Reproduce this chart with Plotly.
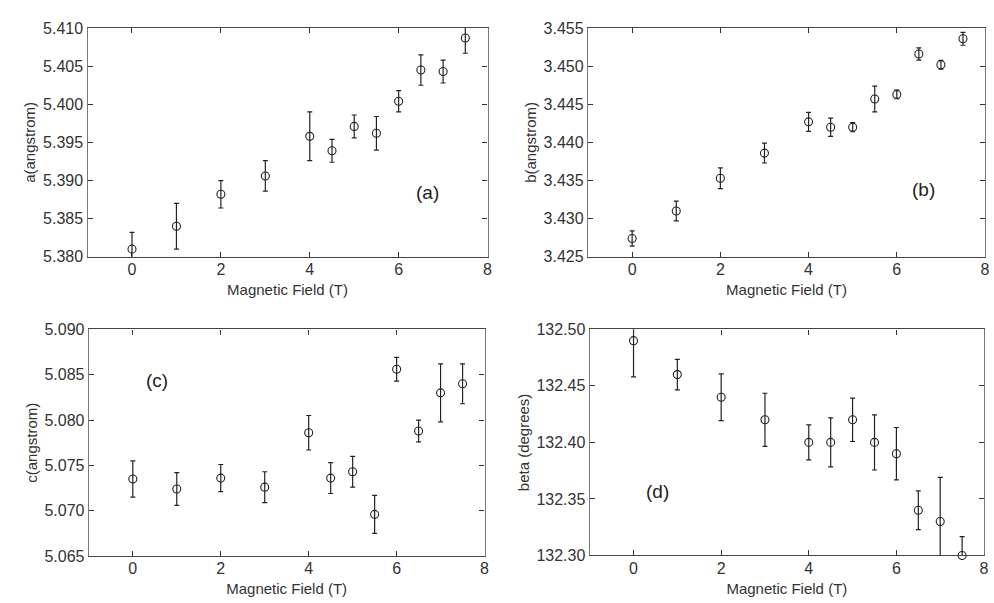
import plotly.graph_objects as go

field = [0, 1, 2, 3, 4, 4.5, 5, 5.5, 6, 6.5, 7, 7.5]

a_val = [5.3810, 5.3840, 5.3882, 5.3906, 5.3958, 5.3939, 5.3971, 5.3962, 5.4004, 5.4045, 5.4043, 5.4087]
a_err = [0.0022, 0.0030, 0.0018, 0.0020, 0.0032, 0.0015, 0.0015, 0.0022, 0.0014, 0.0020, 0.0015, 0.0020]

b_val = [3.4274, 3.4310, 3.4353, 3.4386, 3.4427, 3.4420, 3.4420, 3.4457, 3.4463, 3.4516, 3.4502, 3.4536]
b_err = [0.0010, 0.0013, 0.00135, 0.0013, 0.00125, 0.0012, 0.0006, 0.0017, 0.00057, 0.0008, 0.00057, 0.00085]

c_val = [5.0735, 5.0724, 5.0736, 5.0726, 5.0786, 5.0736, 5.0743, 5.0696, 5.0856, 5.0788, 5.0830, 5.0840]
c_err = [0.0020, 0.0018, 0.0015, 0.0017, 0.0019, 0.0017, 0.0017, 0.0021, 0.0013, 0.0012, 0.0032, 0.0022]

beta_val = [132.49, 132.46, 132.44, 132.42, 132.40, 132.40, 132.42, 132.40, 132.39, 132.34, 132.33, 132.30]
beta_err = [0.032, 0.0135, 0.0207, 0.0235, 0.0155, 0.0217, 0.0192, 0.0244, 0.0232, 0.0172, 0.039, 0.0166]

panels = [
    dict(y=a_val, e=a_err, title="a(angstrom)", rng=[5.380, 5.410], dt=0.005, fmt=".3f",
         label="(a)", lx=6.64, ly=5.3884, xd=[88/994, 490/994], yd=[0.5755, 0.9657]),
    dict(y=b_val, e=b_err, title="b(angstrom)", rng=[3.425, 3.455], dt=0.005, fmt=".3f",
         label="(b)", lx=6.6, ly=3.4338, xd=[591/994, 990/994], yd=[0.5755, 0.9657]),
    dict(y=c_val, e=c_err, title="c(angstrom)", rng=[5.065, 5.090], dt=0.005, fmt=".3f",
         label="(c)", lx=0.54, ly=5.0844, xd=[89.3/994, 487/994], yd=[0.0647, 0.4516]),
    dict(y=beta_val, e=beta_err, title="beta (degrees)", rng=[132.30, 132.50], dt=0.05, fmt=".2f",
         label="(d)", lx=0.54, ly=132.357, xd=[592.7/994, 989/994], yd=[0.0658, 0.4516]),
]

FONT = "Liberation Sans, Arial, Helvetica, sans-serif"
INK = "#222222"

fig = go.Figure()
layout = dict(
    width=994, height=603,
    margin=dict(l=0, r=0, t=0, b=0),
    paper_bgcolor="white", plot_bgcolor="white",
    showlegend=False,
    font=dict(family=FONT, color="#333333"),
    annotations=[],
)

for i, p in enumerate(panels, start=1):
    xa = "x" if i == 1 else f"x{i}"
    ya = "y" if i == 1 else f"y{i}"
    # error bars (clipped to plot area)
    fig.add_trace(go.Scatter(
        x=field, y=p["y"], mode="markers", xaxis=xa, yaxis=ya,
        marker=dict(size=1, color="rgba(0,0,0,0)"),
        error_y=dict(type="data", array=p["e"], visible=True, color=INK, thickness=1.2, width=2.5),
        cliponaxis=True, hoverinfo="skip",
    ))
    # open circle markers (not clipped)
    fig.add_trace(go.Scatter(
        x=field, y=p["y"], mode="markers", xaxis=xa, yaxis=ya,
        marker=dict(symbol="circle-open", size=8, color=INK, line=dict(width=1.1, color=INK)),
        cliponaxis=False,
    ))
    xk = "xaxis" if i == 1 else f"xaxis{i}"
    yk = "yaxis" if i == 1 else f"yaxis{i}"
    layout[xk] = dict(
        domain=p["xd"], anchor=ya, range=[-1, 8], tick0=0, dtick=2,
        showgrid=False, zeroline=False,
        showline=True, linecolor="#444444", linewidth=1.3, mirror="ticks",
        ticks="inside", ticklen=5, tickwidth=1.2, tickcolor="#333333",
        ticklabelstandoff=-2,
        tickfont=dict(size=16, family=FONT, color="#333333"),
        title=dict(text="Magnetic Field (T)", font=dict(size=15, family=FONT, color="#333333"), standoff=7),
    )
    layout[yk] = dict(
        domain=p["yd"], anchor=xa, range=p["rng"], tick0=p["rng"][0], dtick=p["dt"],
        tickformat=p["fmt"],
        showgrid=False, zeroline=False,
        showline=True, linecolor="#777777", linewidth=1.4, mirror="ticks",
        ticks="inside", ticklen=5, tickwidth=1.2, tickcolor="#333333",
        tickfont=dict(size=16, family=FONT, color="#333333"),
        title=dict(text=p["title"], font=dict(size=15, family=FONT, color="#333333"), standoff=3),
    )
    layout["annotations"].append(dict(
        x=p["lx"], y=p["ly"], xref=xa, yref=ya, text=p["label"], showarrow=False,
        font=dict(size=19, family=FONT, color="#222222"),
    ))

fig.update_layout(**layout)
fig.write_html("out.html")
